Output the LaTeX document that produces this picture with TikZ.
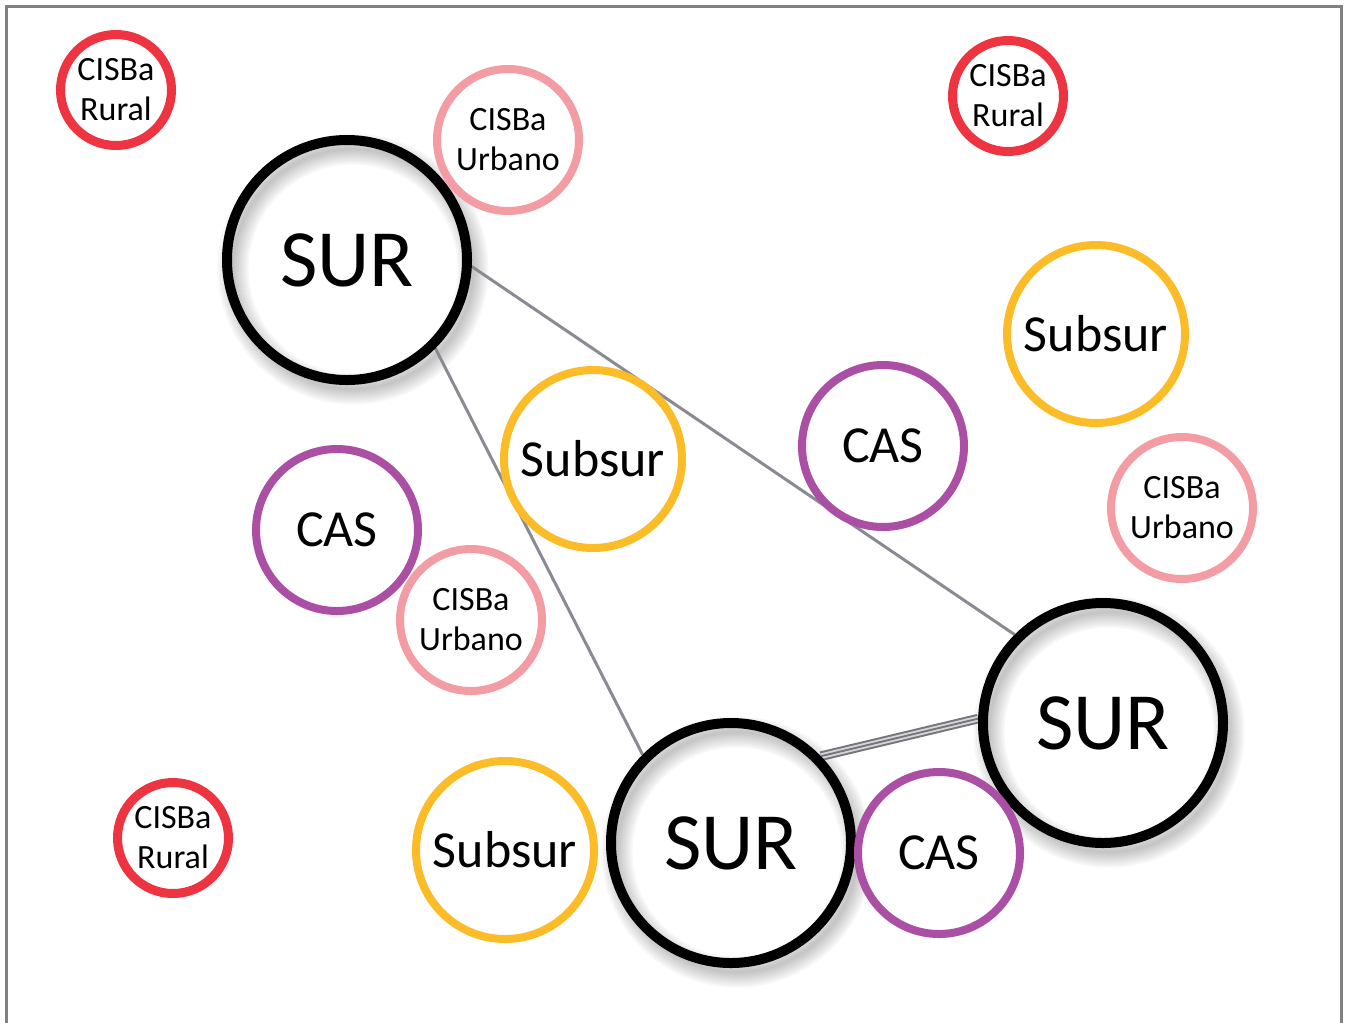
\documentclass[tikz,border=0pt]{standalone}
\usepackage{fontspec}
\setmainfont{Carlito}
\usetikzlibrary{backgrounds}
\definecolor{ruralred}{HTML}{EE3440}
\definecolor{urbpink}{HTML}{F39CA3}
\definecolor{subyellow}{HTML}{FBBC28}
\definecolor{caspurple}{HTML}{AB4FA5}
\definecolor{linkgray}{HTML}{8A8A92}
\definecolor{framegray}{HTML}{808080}
\tikzset{
  ringbase/.style={circle, inner sep=0pt, align=center, text=black},
  smallring/.style={ringbase, fill=white},
  rural/.style={smallring, draw=ruralred, line width=6.75pt, minimum size=83.25pt,
     font=\fontsize{25.5}{30}\selectfont},
  urbano/.style={smallring, draw=urbpink, line width=6pt, minimum size=106.5pt,
     font=\fontsize{25.5}{30}\selectfont},
  subsur/.style={smallring, draw=subyellow, line width=6pt, minimum size=133.5pt,
     font=\fontsize{39}{44}\selectfont},
  cas/.style={smallring, draw=caspurple, line width=6pt, minimum size=121.5pt,
     font=\fontsize{39}{44}\selectfont},
  sur/.style={ringbase, draw=black, line width=7.5pt, minimum size=180pt,
     font=\fontsize{61}{66}\selectfont},
  link/.style={draw=linkgray, line width=2.25pt},
  triplelink/.style={preaction={draw=linkgray!85!black, line width=7.2pt},
     draw=linkgray!35, line width=1.4pt, double=linkgray!85!black, double distance=1.4pt},
  frame/.style={draw=framegray, line width=2.25pt}
}
\newcommand{\ringshadow}[2]{%
  \foreach \w in {3,7,11,15,19,23,27,31}{%
    \draw[black, opacity=0.03, line width=\w*0.75pt] (#1+6,#2+9) circle[radius=90pt];
  }%
}
\begin{document}
\begin{tikzpicture}[x=0.75pt,y=-0.75pt]
\useasboundingbox (0,0) rectangle (1345,1022);
\path[frame] (6,1030) -- (6,6) -- (1341,6) -- (1341,1030);

% small circle drawn beneath the SUR rings
\node[urbano] (urbA) at (508,140) {CISBa\\Urbano};

% SUR rings
\node[sur] (surA) at (347,260) {SUR};
\node[sur] (surB) at (1103,723) {SUR};
\node[sur] (surC) at (731,843) {SUR};

% other circles
\node[rural] (ruralA) at (116,90) {CISBa\\Rural};
\node[rural] (ruralB) at (1008,96) {CISBa\\Rural};
\node[rural] (ruralC) at (173,838) {CISBa\\Rural};
\node[subsur] (subA) at (1096,334) {Subsur};
\node[subsur] (subB) at (593,459) {Subsur};
\node[subsur] (subC) at (505,850) {Subsur};
\node[cas] (casA) at (883,446) {CAS};
\node[cas] (casB) at (337,530) {CAS};
\node[cas] (casC) at (939,853) {CAS};
\node[urbano] (urbB) at (1182,508) {CISBa\\Urbano};
\node[urbano] (urbC) at (471,620) {CISBa\\Urbano};

\begin{scope}[on background layer]
  % shadows of the SUR rings
  \ringshadow{347}{260}
  \ringshadow{1103}{723}
  \ringshadow{731}{843}
  % connectors
  \draw[link] (surA.-3.6) -- (surB.135.6);
  \draw[link] (surA.-45) -- (surC.135);
  \draw[triplelink] (surC.44) -- (surB.178.6);
\end{scope}
\end{tikzpicture}
\end{document}
